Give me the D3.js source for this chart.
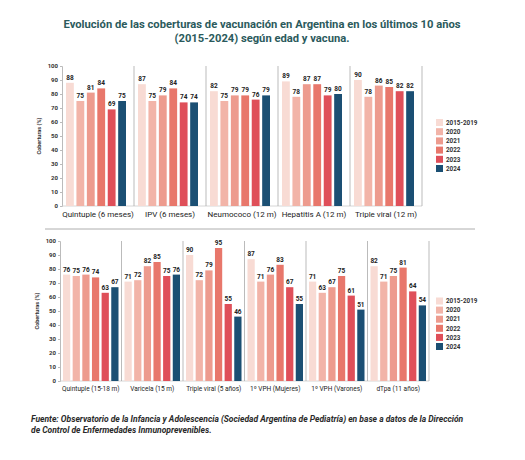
<!DOCTYPE html>
<html>
<head>
<meta charset="utf-8">
<script src="https://cdn.jsdelivr.net/npm/d3@7"></script>
<style>
  body { margin: 0; background: #fff; }
  text { font-family: Roboto, "Noto Sans", sans-serif; }
</style>
</head>
<body>
<div id="chart"></div>
<script>
var series = ["2015-2019", "2020", "2021", "2022", "2023", "2024"];
var colors = ["#f8dbd4", "#f2b4a8", "#ed9b8e", "#e8776b", "#df4f59", "#1b4f73"];
var yTicks = [0, 10, 20, 30, 40, 50, 60, 70, 80, 90, 100];

var topCats = ["Quintuple (6 meses)", "IPV (6 meses)", "Neumococo (12 m)", "Hepatitis A (12 m)", "Triple viral (12 m)"];
var topValues = [
  [88, 75, 81, 84, 69, 75],
  [87, 75, 79, 84, 74, 74],
  [82, 75, 79, 79, 76, 79],
  [89, 78, 87, 87, 79, 80],
  [90, 78, 86, 85, 82, 82]
];

var bottomCats = ["Quintuple (15-18 m)", "Varicela (15 m)", "Triple viral (5 años)", "1º VPH (Mujeres)", "1º VPH (Varones)", "dTpa (11 años)"];
var bottomValues = [
  [76, 75, 76, 74, 63, 67],
  [71, 72, 82, 85, 75, 76],
  [90, 72, 79, 95, 55, 46],
  [87, 71, 76, 83, 67, 55],
  [71, 63, 67, 75, 61, 51],
  [82, 71, 75, 81, 64, 54]
];

var W = 525, H = 460;
var svg = d3.select("#chart").append("svg")
  .attr("width", W)
  .attr("height", H);

/* Title */
svg.append("text")
  .attr("x", 262).attr("y", 28)
  .attr("text-anchor", "middle")
  .attr("fill", "#2b5a5c")
  .style("font-size", "11.2px").style("font-weight", "bold")
  .text("Evolución de las coberturas de vacunación en Argentina en los últimos 10 años");
svg.append("text")
  .attr("x", 262).attr("y", 42)
  .attr("text-anchor", "middle")
  .attr("fill", "#2b5a5c")
  .style("font-size", "11.2px").style("font-weight", "bold")
  .text("(2015-2024) según edad y vacuna.");

function drawPanel(cats, values, o) {
  var g = svg.append("g");

  var x0 = d3.scaleBand().domain(cats).range([o.left, o.right]);
  var x1 = d3.scaleBand().domain(series)
    .range([o.inL, x0.bandwidth() - o.inR]).paddingInner(0.25);
  var y = d3.scaleLinear().domain([0, 100]).range([o.bottom, o.top]);

  /* y axis */
  var yAxis = d3.axisLeft(y).tickValues(yTicks).tickSize(2).tickPadding(2);
  var ya = g.append("g")
    .attr("transform", `translate(${o.left}, 0)`)
    .call(yAxis);
  ya.select(".domain").attr("stroke", "#bbb");
  ya.selectAll(".tick line").attr("stroke", "#bbb");
  ya.selectAll(".tick text")
    .attr("fill", "#333")
    .style("font-size", "6px").style("font-weight", "bold");

  g.append("text")
    .attr("transform", `translate(${o.left - 21}, ${(o.top + o.bottom) / 2}) rotate(-90)`)
    .attr("text-anchor", "middle")
    .attr("fill", "#333")
    .style("font-size", "5.5px").style("font-weight", "bold")
    .text("Coberturas (%)");

  /* baseline */
  g.append("line")
    .attr("x1", o.left).attr("x2", o.right)
    .attr("y1", y(0)).attr("y2", y(0))
    .attr("stroke", "#ccc").attr("stroke-width", 0.8);

  /* separators */
  g.selectAll(".sep")
    .data(cats).enter()
    .append("line")
    .attr("class", "sep")
    .attr("x1", d => x0(d) + x0.bandwidth())
    .attr("x2", d => x0(d) + x0.bandwidth())
    .attr("y1", y(100)).attr("y2", y(0))
    .attr("stroke", "#a9a9a9").attr("stroke-width", 0.8);

  var groups = g.selectAll(".grp")
    .data(cats).enter()
    .append("g")
    .attr("class", "grp")
    .attr("transform", d => `translate(${x0(d)}, 0)`);

  var bars = groups.selectAll(".bar")
    .data((d, i) => values[i].map((v, j) => ({ s: series[j], v: v, c: colors[j] })))
    .enter();

  bars.append("rect")
    .attr("class", "bar")
    .attr("x", d => x1(d.s))
    .attr("width", x1.bandwidth())
    .attr("y", d => y(d.v))
    .attr("height", d => y(0) - y(d.v))
    .attr("fill", d => d.c);

  bars.append("text")
    .attr("x", d => x1(d.s) + x1.bandwidth() / 2)
    .attr("y", d => y(d.v) - 3)
    .attr("text-anchor", "middle")
    .attr("fill", "#222")
    .style("font-size", "6.5px").style("font-weight", "bold")
    .text(d => d.v);

  /* category labels */
  g.selectAll(".cat")
    .data(cats).enter()
    .append("text")
    .attr("x", d => x0(d) + x0.bandwidth() / 2)
    .attr("y", o.bottom + o.labelDy)
    .attr("text-anchor", "middle")
    .attr("fill", "#222")
    .style("font-size", o.catSize)
    .text(d => d);

  /* legend */
  var leg = g.selectAll(".leg")
    .data(series).enter()
    .append("g")
    .attr("transform", (d, i) => `translate(${o.legX}, ${o.legY + i * o.legStep})`);
  leg.append("rect")
    .attr("x", 0).attr("y", -3.5)
    .attr("width", 7).attr("height", 7)
    .attr("fill", (d, i) => colors[i]);
  leg.append("text")
    .attr("x", 10).attr("y", 2.2)
    .attr("fill", "#333")
    .style("font-size", "6.3px").style("font-weight", "bold")
    .text(d => d);
}

drawPanel(topCats, topValues, {
  left: 62, right: 422, top: 66, bottom: 206,
  inL: 4, inR: 8, labelDy: 11, catSize: "8px",
  legX: 436, legY: 122.5, legStep: 9.2
});

/* divider */
svg.append("line")
  .attr("x1", 45).attr("x2", 475)
  .attr("y1", 229).attr("y2", 229)
  .attr("stroke", "#9a9a9a").attr("stroke-width", 0.8);

drawPanel(bottomCats, bottomValues, {
  left: 60, right: 429, top: 241, bottom: 381,
  inL: 3, inR: 3, labelDy: 10, catSize: "6.5px",
  legX: 436, legY: 301, legStep: 9.1
});

/* footer */
svg.append("text")
  .attr("x", 31).attr("y", 422)
  .attr("fill", "#2a2a2a")
  .style("font-size", "8.5px").style("font-weight", "bold").style("font-style", "italic")
  .text("Fuente: Observatorio de la Infancia y Adolescencia (Sociedad Argentina de Pediatría) en base a datos de la Dirección");
svg.append("text")
  .attr("x", 31).attr("y", 432.5)
  .attr("fill", "#2a2a2a")
  .style("font-size", "8.5px").style("font-weight", "bold").style("font-style", "italic")
  .text("de Control de Enfermedades Inmunoprevenibles.");
</script>
</body>
</html>
